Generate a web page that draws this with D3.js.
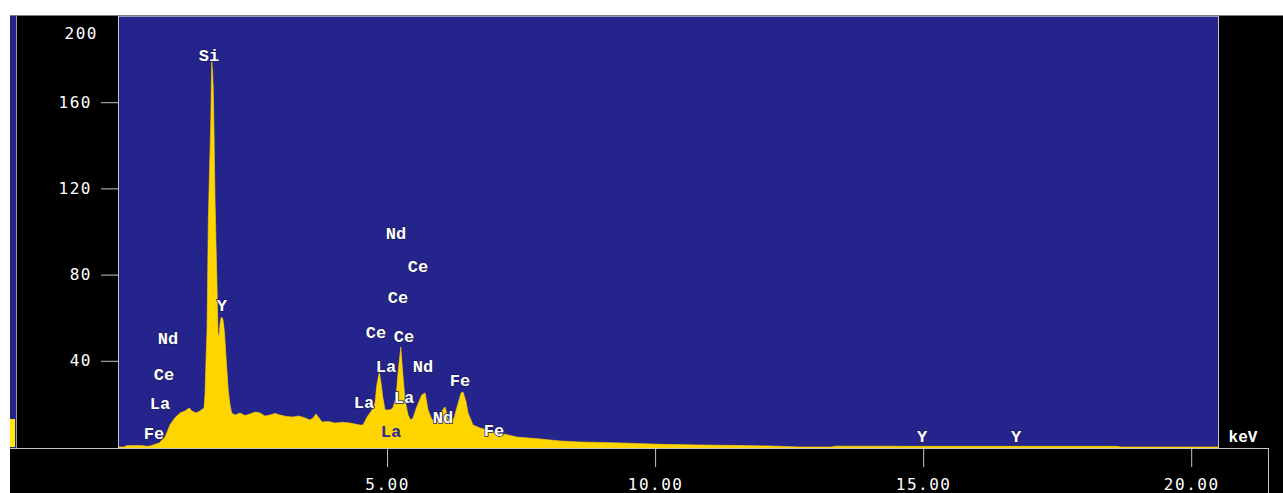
<!DOCTYPE html>
<html>
<head>
<meta charset="utf-8">
<script src="https://cdn.jsdelivr.net/npm/d3@7"></script>
<style>
  body { margin: 0; background: #fff; }
  svg { display: block; }
</style>
</head>
<body>
<svg id="chart" width="1283" height="493"></svg>
<script>
// spectrum (keV, counts)
const specKeV = [0, 0.1, 0.13, 0.3, 0.47, 0.5, 0.58, 0.75, 0.86, 0.95, 1.04, 1.14, 1.23, 1.31, 1.36, 1.44, 1.51,
  1.586, 1.604, 1.623, 1.642, 1.666, 1.688, 1.711, 1.729, 1.744, 1.759, 1.772, 1.791, 1.81, 1.823, 1.847, 1.866,
  1.884, 1.903, 1.927, 1.94, 1.965, 1.996, 2.039, 2.071, 2.103, 2.164, 2.257, 2.35, 2.444, 2.54, 2.631, 2.72,
  2.817, 2.91, 3.004, 3.12, 3.246, 3.35, 3.47, 3.563, 3.62, 3.675, 3.73, 3.787, 3.9, 4.03, 4.17, 4.31, 4.42,
  4.496, 4.552, 4.627, 4.72, 4.776, 4.81, 4.856, 4.888, 4.92, 4.963, 5.056, 5.11, 5.168, 5.205, 5.256, 5.299,
  5.336, 5.392, 5.442, 5.485, 5.554, 5.647, 5.709, 5.765, 5.84, 5.933, 6.007, 6.082, 6.138, 6.175, 6.25,
  6.306, 6.381, 6.418, 6.474, 6.511, 6.604, 6.735, 6.866, 7.108, 7.425, 7.854, 8.228, 8.601, 9.347, 10.09,
  10.84, 11.59, 12.15, 12.7, 13.3, 13.35, 14.5, 14.6, 18.6, 18.7, 20.5];
const specCounts = [0, 0, 0.6, 0.7, 0.6, 0.3, 0.5, 1.9, 4.6, 10.2, 13.5, 15.8, 16.7, 18.1, 16.7, 15.8, 16.7,
  18.1, 24, 40.4, 54.3, 105, 128, 149, 179, 175, 166, 147, 115, 94, 81, 53, 51,
  57, 60, 60, 59, 54, 42, 26, 19.5, 15.8, 14.8, 15.8, 14.6, 15.3, 16.2, 15.8, 14.4,
  14.8, 15.6, 14.8, 14.2, 13.9, 14.4, 13.5, 12.5, 13.5, 15.3, 13.5, 11.6, 11.8, 11.1, 11.5, 11.1, 10.6,
  10.2, 10.2, 13.9, 17.2, 20.4, 28.8, 34.8, 29.7, 23.2, 17.2, 17.2, 18.1, 23.2, 34.3, 46.4, 32.5,
  21.8, 14.8, 12.5, 13.5, 18.6, 24.1, 25.1, 17.2, 12.5, 13.5, 16.2, 18.6, 13.5, 11.1, 13.5,
  18.6, 25.1, 25.5, 20.9, 15.8, 10.2, 8.8, 7.9, 6.5, 4.6, 3.7, 2.8, 2.3, 1.9, 1.25,
  0.93, 0.7, 0.46, 0, 0, 0.4, 0.4, 0.3, 0.3, 0, 0];

// element markers
const labelText = ['Si', 'Y', 'Nd', 'Ce', 'La', 'Fe', 'Nd', 'Ce', 'Ce', 'Ce', 'Ce', 'La', 'Nd', 'La', 'La',
  'Fe', 'Nd', 'La', 'Fe', 'Y', 'Y'];
const labelKeV = [1.68, 1.92, 0.914, 0.84, 0.765, 0.653, 5.168, 5.578, 5.205, 4.795, 5.317, 4.981, 5.672,
  4.571, 5.317, 6.362, 6.045, 5.075, 6.996, 14.98, 16.735];
const labelCounts = [181.4, 65.4, 49.7, 33.4, 19.5, 6.0, 98.8, 83.1, 68.7, 52.9, 51.0, 36.7, 36.7,
  20.4, 22.7, 30.2, 13.0, 6.5, 7.4, 4.6, 4.6];

const yTicks = [200, 160, 120, 80, 40];
const xTicks = [5, 10, 15, 20];

const blue = '#24248c', yellow = '#ffd500';
const svg = d3.select('#chart');

const x = d3.scaleLinear().domain([0, 20.5]).range([119, 1218]);
const y = d3.scaleLinear().domain([0, 200]).range([447, 16]);

// frame
svg.append('rect').attr('width', 1283).attr('height', 493).attr('fill', '#fff');
svg.append('rect').attr('x', 10).attr('y', 16).attr('width', 1273).attr('height', 477).attr('fill', '#000');
svg.append('rect').attr('x', 10).attr('y', 16).attr('width', 6).attr('height', 432).attr('fill', blue);
svg.append('rect').attr('x', 10).attr('y', 419).attr('width', 5).attr('height', 28).attr('fill', '#ffea00');
svg.append('line').attr('x1', 10).attr('x2', 1283).attr('y1', 15.5).attr('y2', 15.5)
  .attr('stroke', '#7c7c7c');
svg.append('line').attr('x1', 16.5).attr('x2', 16.5).attr('y1', 16).attr('y2', 448)
  .attr('stroke', '#9a9aa8');

svg.append('defs').append('clipPath').attr('id', 'plotclip')
  .append('rect').attr('x', 119).attr('y', 16).attr('width', 1099).attr('height', 432);

svg.append('rect').attr('x', 119).attr('y', 16).attr('width', 1099).attr('height', 432).attr('fill', blue);

const spec = specKeV.map((k, i) => [k, specCounts[i]]);
const area = d3.area()
  .x(d => x(d[0]))
  .y0(y(0) + 1)
  .y1(d => y(d[1]));

svg.append('path')
  .datum(spec)
  .attr('clip-path', 'url(#plotclip)')
  .attr('d', area)
  .attr('fill', yellow)
  .attr('stroke', yellow)
  .attr('stroke-width', 0.6);

// borders
const grey = '#c4c4c4';
svg.append('line').attr('x1', 118.5).attr('x2', 118.5).attr('y1', 16).attr('y2', 448).attr('stroke', grey);
svg.append('line').attr('x1', 1218.5).attr('x2', 1218.5).attr('y1', 16).attr('y2', 448).attr('stroke', grey);
svg.append('line').attr('x1', 119).attr('x2', 1218).attr('y1', 16.5).attr('y2', 16.5).attr('stroke', '#9898b8');
svg.append('line').attr('x1', 10).attr('x2', 1268).attr('y1', 448.5).attr('y2', 448.5).attr('stroke', grey);
svg.append('line').attr('x1', 1268.5).attr('x2', 1268.5).attr('y1', 448).attr('y2', 493).attr('stroke', grey);

// y axis
const yAxis = svg.append('g')
  .attr('transform', 'translate(118,0)')
  .call(d3.axisLeft(y).tickValues(yTicks).tickSize(17).tickPadding(9));
yAxis.select('.domain').remove();
yAxis.selectAll('line').attr('stroke', grey);
yAxis.selectAll('text')
  .attr('fill', '#fff')
  .style('font-family', 'DejaVu Sans Mono, monospace')
  .style('font-size', '16px')
  .style('letter-spacing', '1.5px');
// the top value has no tick mark and sits below the frame edge
yAxis.selectAll('.tick').filter(d => d === 200).each(function() {
  d3.select(this).select('line').remove();
  d3.select(this).select('text').attr('x', -20).attr('y', 17);
});

// x axis
const xAxis = svg.append('g')
  .attr('transform', 'translate(0,448)')
  .call(d3.axisBottom(x).tickValues(xTicks).tickFormat(d3.format('.2f')).tickSize(19).tickPadding(12));
xAxis.select('.domain').remove();
xAxis.selectAll('line').attr('stroke', grey);
xAxis.selectAll('text')
  .attr('fill', '#fff')
  .style('font-family', 'DejaVu Sans Mono, monospace')
  .style('font-size', '16px')
  .style('letter-spacing', '1.5px');

svg.append('text')
  .attr('x', 1243).attr('y', 438)
  .attr('text-anchor', 'middle').attr('dominant-baseline', 'central')
  .attr('fill', '#fff')
  .style('font-family', 'Liberation Mono, monospace')
  .style('font-weight', 'bold')
  .style('font-size', '16px')
  .text('keV');

// element labels; a label sitting well inside the yellow is drawn dark
const bis = d3.bisector(d => d).left;
function specAt(k) {
  let i = Math.max(1, bis(specKeV, k));
  let t = (k - specKeV[i - 1]) / (specKeV[i] - specKeV[i - 1]);
  return specCounts[i - 1] + t * (specCounts[i] - specCounts[i - 1]);
}

svg.append('g').selectAll('text')
  .data(labelText)
  .enter()
  .append('text')
  .attr('x', (d, i) => x(labelKeV[i]))
  .attr('y', (d, i) => y(labelCounts[i]))
  .attr('text-anchor', 'middle')
  .attr('dominant-baseline', 'central')
  .style('font-family', 'Liberation Mono, monospace')
  .style('font-weight', 'bold')
  .style('font-size', '17px')
  .style('paint-order', 'stroke')
  .attr('fill', (d, i) => labelCounts[i] < specAt(labelKeV[i]) * 0.5 ? '#2a2a90' : '#fff')
  .attr('stroke', (d, i) => labelCounts[i] < specAt(labelKeV[i]) * 0.5 ? 'none' : '#1c1c66')
  .attr('stroke-width', 1.5)
  .text(d => d);
</script>
</body>
</html>
